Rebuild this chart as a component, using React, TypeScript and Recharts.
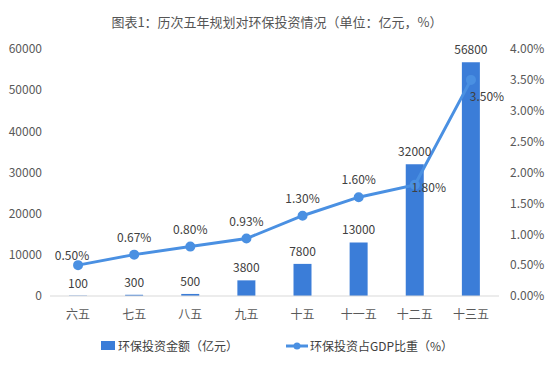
import { Bar, ComposedChart, LabelList, Legend, Line, XAxis, YAxis } from "recharts";

const plans = ["六五", "七五", "八五", "九五", "十五", "十一五", "十二五", "十三五"];
const investment = [100, 300, 500, 3800, 7800, 13000, 32000, 56800];
const gdpShare = [0.5, 0.67, 0.8, 0.93, 1.3, 1.6, 1.8, 3.5];
const leftTicks = [0, 10000, 20000, 30000, 40000, 50000, 60000];
const rightTicks = [0, 0.5, 1, 1.5, 2, 2.5, 3, 3.5, 4];

const data = plans.map((name, i) => ({ name, investment: investment[i], share: gdpShare[i] }));

const font = '"Noto Sans CJK SC", "Noto Sans", sans-serif';
const barColor = "#3b7dd8";
const lineColor = "#4a90e2";

function ShareLabel(props: any) {
  const { x, y, value, index } = props;
  let dx = 0;
  let dy = -17;
  if (index === 0) {
    dx = -6;
    dy = -9;
  }
  if (index === 6) {
    dx = 14;
    dy = 3;
  }
  if (index === 7) {
    dx = 16;
    dy = 17;
  }
  return (
    <text x={x + dx} y={y + dy} dy="0.35em" textAnchor="middle" fill="#404040" fontSize={12} fontFamily={font}>
      {Number(value).toFixed(2)}%
    </text>
  );
}

function ChartLegend() {
  return (
    <div style={{ display: "flex", justifyContent: "center", alignItems: "center", fontSize: 12, color: "#404040" }}>
      <span style={{ display: "inline-block", width: 14, height: 9, background: barColor, marginRight: 3 }} />
      <span style={{ marginRight: 48 }}>环保投资金额（亿元）</span>
      <svg width={22} height={10} style={{ marginRight: 2 }}>
        <line x1={0} y1={5} x2={22} y2={5} stroke={lineColor} strokeWidth={3} />
        <circle cx={11} cy={5} r={3.5} fill={lineColor} />
      </svg>
      <span>环保投资占GDP比重（%）</span>
    </div>
  );
}

export default function App() {
  return (
    <div style={{ position: "absolute", left: 0, top: 0, width: 554, height: 371, background: "#fff", fontFamily: font }}>
      <div
        style={{
          position: "absolute",
          top: 12,
          left: 0,
          width: 554,
          textAlign: "center",
          fontSize: 13,
          color: "#555",
        }}
      >
        图表1：历次五年规划对环保投资情况（单位：亿元，%）
      </div>
      <ComposedChart width={554} height={371} data={data} margin={{ top: 49, right: 0, left: 0, bottom: 10 }}>
        <XAxis
          dataKey="name"
          tickLine={false}
          axisLine={{ stroke: "#d9d9d9" }}
          tick={{ fill: "#595959", fontSize: 12, fontFamily: font }}
          tickMargin={8}
          height={41}
        />
        <YAxis
          yAxisId="left"
          domain={[0, 60000]}
          ticks={leftTicks}
          tickLine={false}
          axisLine={false}
          width={50}
          tick={{ fill: "#595959", fontSize: 12, fontFamily: font }}
        />
        <YAxis
          yAxisId="right"
          orientation="right"
          domain={[0, 4]}
          ticks={rightTicks}
          tickFormatter={(v) => `${Number(v).toFixed(2)}%`}
          tickLine={false}
          axisLine={false}
          width={55}
          tickMargin={5}
          tick={{ fill: "#595959", fontSize: 12, fontFamily: font }}
        />
        <Legend verticalAlign="bottom" height={24} content={<ChartLegend />} />
        <Bar
          yAxisId="left"
          dataKey="investment"
          name="环保投资金额（亿元）"
          fill={barColor}
          barSize={18}
          isAnimationActive={false}
        >
          <LabelList dataKey="investment" position="top" offset={8} fill="#404040" fontSize={12} fontFamily={font} />
        </Bar>
        <Line
          yAxisId="right"
          type="linear"
          dataKey="share"
          name="环保投资占GDP比重（%）"
          stroke={lineColor}
          strokeWidth={3}
          dot={{ r: 3.5, fill: lineColor, stroke: lineColor }}
          isAnimationActive={false}
        >
          <LabelList dataKey="share" content={<ShareLabel />} />
        </Line>
      </ComposedChart>
    </div>
  );
}
